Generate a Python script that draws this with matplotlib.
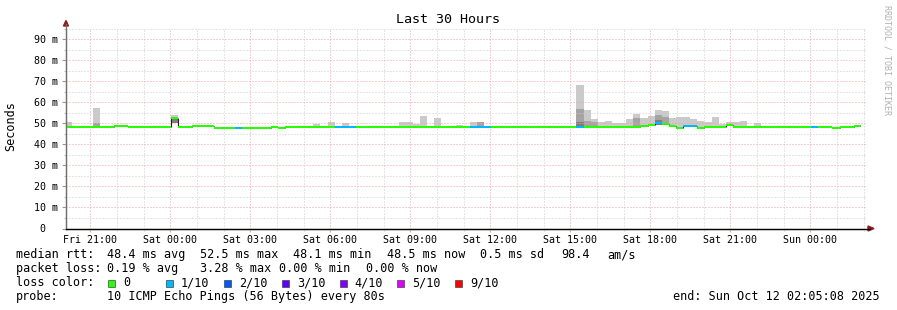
import matplotlib
matplotlib.use("Agg")
import matplotlib.pyplot as plt
import matplotlib.dates as mdates
from matplotlib.patches import Polygon, Rectangle
from datetime import datetime, timedelta
import numpy as np

# time window of the graph
t_start = datetime(2025, 10, 10, 20, 5, 8)
t_end = datetime(2025, 10, 12, 2, 5, 8)
first_bin = datetime(2025, 10, 10, 20, 1, 32)
bin_minutes = 16

# median rtt per 16 min bin (ms)
median = [48.4, 48.4, 48.4, 48.4, 48.4, 48.4, 48.4, 48.8, 48.8, 48.3,
          48.3, 48.3, 48.3, 48.3, 48.3, 52.5, 48.4, 48.4, 48.7, 48.7,
          48.7, 47.8, 47.8, 47.8, 47.8, 47.8, 47.8, 47.8, 47.8, 48.4,
          47.8, 48.4, 48.4, 48.4, 48.4, 48.4, 48.4, 48.4, 48.4, 48.4,
          48.4, 48.4, 48.4, 48.4, 48.4, 48.4, 48.4, 48.4, 48.4, 48.4,
          48.4, 48.4, 48.4, 48.4, 48.4, 48.4, 48.4, 48.4, 48.4, 48.4,
          48.4, 48.4, 48.4, 48.4, 48.4, 48.4, 48.4, 48.4, 48.4, 48.4,
          48.4, 48.4, 48.4, 48.4, 48.4, 48.4, 48.4, 48.4, 48.4, 48.4,
          48.4, 48.9, 49.0, 50.1, 49.6, 48.8, 47.9, 48.9, 48.9, 47.9,
          48.4, 48.4, 48.4, 49.0, 48.4, 48.4, 48.4, 48.4, 48.4, 48.4,
          48.4, 48.4, 48.4, 48.4, 48.4, 48.4, 48.4, 48.4, 47.6, 48.4,
          48.4, 48.9]

# packet loss per bin (%)
loss_pct = [0, 0, 0, 0, 0, 0, 0, 0, 0, 0,
            0, 0, 0, 0, 0, 0, 0, 0, 0, 0,
            0, 0, 0, 0, 1.25, 0, 0, 0, 0, 0,
            0, 0, 0, 0, 0, 0, 0, 0, 1.25, 2.5,
            1.25, 0, 0, 0, 0, 0, 0, 0, 0, 0,
            0, 0, 0, 0, 0, 0, 0, 1.25, 2.5, 1.25,
            0, 0, 0, 0, 0, 0, 0, 0, 0, 0,
            0, 0, 3.28, 0, 0, 0, 0, 0, 0, 0,
            0, 0, 0, 2.5, 0, 0, 0, 1.25, 1.25, 0,
            0, 0, 0, 0, 0, 0, 0, 0, 0, 0,
            0, 0, 0, 0, 0, 1.25, 0, 0, 0, 0,
            0, 0]

# smoke per bin: slowest ping, 9th and 8th of 10, fastest ping (ms)
ping_max = [50.5, 48.8, 48.8, 48.8, 57.3, 48.8, 48.8, 49.2, 49.2, 48.7,
            48.7, 48.7, 48.7, 48.7, 48.7, 53.9, 48.8, 48.8, 49.1, 49.1,
            49.1, 48.2, 48.2, 48.2, 48.2, 48.2, 48.2, 48.2, 48.2, 48.8,
            48.2, 48.8, 48.8, 48.8, 48.8, 49.5, 48.8, 50.5, 48.8, 50.3,
            48.8, 48.8, 48.8, 48.8, 48.8, 48.8, 48.8, 50.5, 50.5, 49.6,
            53.4, 48.8, 52.3, 48.8, 48.8, 49.3, 48.8, 50.5, 50.5, 48.8,
            48.8, 48.8, 48.8, 48.8, 48.8, 48.8, 48.8, 48.8, 48.8, 48.8,
            48.8, 48.8, 68.4, 56.2, 51.8, 50.5, 51.0, 50.0, 50.0, 51.8,
            54.2, 52.4, 53.3, 56.2, 55.9, 52.4, 53.2, 53.2, 51.8, 51.3,
            50.4, 52.9, 49.7, 50.8, 50.4, 51.3, 48.8, 50.0, 48.8, 48.8,
            48.8, 48.8, 48.8, 48.8, 48.8, 48.8, 48.8, 48.8, 48.0, 48.8,
            48.8, 49.3]
ping_p9 = [48.7, 48.7, 48.7, 48.7, 50.0, 48.7, 48.7, 49.1, 49.1, 48.6,
           48.6, 48.6, 48.6, 48.6, 48.6, 52.9, 48.7, 48.7, 49.0, 49.0,
           49.0, 48.1, 48.1, 48.1, 48.1, 48.1, 48.1, 48.1, 48.1, 48.7,
           48.1, 48.7, 48.7, 48.7, 48.7, 48.7, 48.7, 48.7, 48.7, 48.7,
           48.7, 48.7, 48.7, 48.7, 48.7, 48.7, 48.7, 48.7, 48.7, 48.7,
           48.7, 48.7, 48.7, 48.7, 48.7, 48.7, 48.7, 48.7, 50.5, 48.7,
           48.7, 48.7, 48.7, 48.7, 48.7, 48.7, 48.7, 48.7, 48.7, 48.7,
           48.7, 48.7, 56.7, 51.3, 50.4, 48.7, 48.7, 48.7, 48.7, 48.7,
           52.3, 49.3, 49.4, 53.7, 53.0, 49.2, 48.3, 49.3, 49.3, 48.3,
           48.7, 48.7, 48.7, 49.3, 48.7, 48.7, 48.7, 48.7, 48.7, 48.7,
           48.7, 48.7, 48.7, 48.7, 48.7, 48.7, 48.7, 48.7, 47.9, 48.7,
           48.7, 49.2]
ping_p8 = [48.6, 48.6, 48.6, 48.6, 48.9, 48.6, 48.6, 49.0, 49.0, 48.5,
           48.5, 48.5, 48.5, 48.5, 48.5, 52.0, 48.6, 48.6, 48.9, 48.9,
           48.9, 48.0, 48.0, 48.0, 48.0, 48.0, 48.0, 48.0, 48.0, 48.6,
           48.0, 48.6, 48.6, 48.6, 48.6, 48.6, 48.6, 48.6, 48.6, 48.6,
           48.6, 48.6, 48.6, 48.6, 48.6, 48.6, 48.6, 48.6, 48.6, 48.6,
           48.6, 48.6, 48.6, 48.6, 48.6, 48.6, 48.6, 48.6, 48.6, 48.6,
           48.6, 48.6, 48.6, 48.6, 48.6, 48.6, 48.6, 48.6, 48.6, 48.6,
           48.6, 48.6, 50.5, 48.6, 48.6, 48.6, 48.6, 48.6, 48.6, 48.6,
           48.6, 49.2, 49.3, 51.5, 49.8, 49.0, 48.1, 49.1, 49.1, 48.1,
           48.6, 48.6, 48.6, 49.2, 48.6, 48.6, 48.6, 48.6, 48.6, 48.6,
           48.6, 48.6, 48.6, 48.6, 48.6, 48.6, 48.6, 48.6, 47.8, 48.6,
           48.6, 49.1]
ping_min = [48.0, 48.0, 48.0, 48.0, 48.0, 48.0, 48.0, 48.4, 48.4, 47.9,
            47.9, 47.9, 47.9, 47.9, 47.9, 50.0, 48.0, 48.0, 48.3, 48.3,
            48.3, 47.4, 47.4, 47.4, 47.4, 47.4, 47.4, 47.4, 47.4, 48.0,
            47.4, 48.0, 48.0, 48.0, 48.0, 48.0, 48.0, 48.0, 48.0, 48.0,
            48.0, 48.0, 48.0, 48.0, 48.0, 48.0, 48.0, 48.0, 48.0, 48.0,
            48.0, 48.0, 48.0, 48.0, 48.0, 48.0, 48.0, 48.0, 48.0, 48.0,
            48.0, 48.0, 48.0, 48.0, 48.0, 48.0, 48.0, 48.0, 48.0, 48.0,
            48.0, 48.0, 48.0, 48.0, 48.0, 48.0, 48.0, 48.0, 48.0, 48.0,
            48.0, 48.5, 48.6, 49.0, 49.2, 48.4, 47.5, 48.5, 48.5, 47.5,
            48.0, 48.0, 48.0, 48.6, 48.0, 48.0, 48.0, 48.0, 48.0, 48.0,
            48.0, 48.0, 48.0, 48.0, 48.0, 48.0, 48.0, 48.0, 47.2, 48.0,
            48.0, 48.5]

loss_colors = ["#26ff00", "#00b8ff", "#0059ff", "#5e00ff", "#7e00ff", "#dd00ff", "#ff0000"]
loss_labels = ["0", "1/10", "2/10", "3/10", "4/10", "5/10", "9/10"]
loss_limits = [0, 10, 20, 30, 40, 50, 100]

W, H = 897, 310
MONO = "DejaVu Sans Mono"
plt.rcParams["font.family"] = MONO

fig = plt.figure(figsize=(W / 100, H / 100), dpi=100)
fig.patch.set_facecolor("white")
ax = fig.add_axes([66 / W, (H - 228.5) / H, 800 / W, 200 / H])
ax.set_facecolor("white")


def fx(x):
    return x / W


def fy(y):
    return 1 - y / H


n = len(median)
bins = [first_bin + timedelta(minutes=bin_minutes * i) for i in range(n)]
xs = mdates.date2num(bins)
bw = bin_minutes / 1440.0

med = np.array(median)
pmax = np.array(ping_max)
pmin = np.array(ping_min)

# smoke
ax.bar(xs, pmax - pmin, bottom=pmin, width=bw, align="edge", color="#cacaca", lw=0, zorder=1)
ax.bar(xs, np.array(ping_p9) - pmin, bottom=pmin, width=bw, align="edge", color="#a4a4a4", lw=0, zorder=1.1)
ax.bar(xs, np.array(ping_p8) - pmin, bottom=pmin, width=bw, align="edge", color="#7e7e7e", lw=0, zorder=1.2)

# grid
ax.set_xlim(mdates.date2num(t_start), mdates.date2num(t_end))
ax.set_ylim(0, 95)
ax.xaxis.set_major_locator(mdates.HourLocator(byhour=range(0, 24, 3)))
ax.xaxis.set_minor_locator(mdates.HourLocator())
ax.xaxis.set_major_formatter(mdates.DateFormatter("%a %H:%M"))
ax.set_yticks(range(0, 100, 10))
ax.set_yticks(range(5, 100, 10), minor=True)
ax.set_yticklabels([" 0  "] + ["%d m" % v for v in range(10, 100, 10)])
ax.grid(which="minor", color="#cccccc", lw=0.72, linestyle=(0, (1, 2)))
ax.grid(which="major", color="#f2a0a0", lw=0.72, linestyle=(0, (1, 2)))
ax.set_axisbelow(False)
for gl in ax.get_xgridlines() + ax.get_ygridlines():
    gl.set_zorder(2)

# median: dark connectors where the level changes, then the loss coloured band
edges = np.append(xs, xs[-1] + bw)
jumps = [i for i in range(1, n) if median[i] != median[i - 1]]
ax.vlines([edges[i] for i in jumps], [min(median[i], median[i - 1]) for i in jumps],
          [max(median[i], median[i - 1]) for i in jumps], color="#202020", lw=0.8, zorder=3)
band_cols = []
for lp in loss_pct:
    if lp == 0:
        band_cols.append(loss_colors[0])
    else:
        k = next(i for i, lim in enumerate(loss_limits) if lp <= lim)
        band_cols.append(loss_colors[k])
ax.bar(xs, 1.0, bottom=med - 0.5, width=bw, align="edge", color=band_cols, lw=0, zorder=4)

for s in ["top", "right"]:
    ax.spines[s].set_visible(False)
ax.spines["left"].set_color("#707070")
ax.spines["left"].set_linewidth(0.9)
ax.spines["bottom"].set_color("black")
ax.spines["bottom"].set_linewidth(0.9)
ax.tick_params(axis="y", which="major", length=3, width=0.8, color="#999999", pad=3, labelsize=7.2)
ax.tick_params(axis="y", which="minor", length=1.5, width=0.8, color="#bbbbbb")
ax.tick_params(axis="x", which="major", length=2, width=0.8, color="#f2a0a0", pad=3, labelsize=7.2)
ax.tick_params(axis="x", which="minor", length=1.5, width=0.8, color="#cccccc")

# axis extensions and arrows
arrow_col = "#8b1c1c"
fig.add_artist(plt.Line2D([fx(66), fx(66)], [fy(228.5), fy(24)], color="#707070", lw=0.9))
fig.add_artist(plt.Line2D([fx(66), fx(870)], [fy(228.5), fy(228.5)], color="black", lw=0.9))
fig.add_artist(Polygon([[fx(63.5), fy(26)], [fx(68.5), fy(26)], [fx(66), fy(20.5)]],
                       closed=True, color=arrow_col, transform=fig.transFigure))
fig.add_artist(Polygon([[fx(868), fy(226)], [fx(868), fy(231)], [fx(874), fy(228.5)]],
                       closed=True, color=arrow_col, transform=fig.transFigure))

# titles
fig.text(fx(448), fy(19.5), "Last 30 Hours", ha="center", va="center", fontsize=9.6)
fig.text(fx(11), fy(126), "Seconds", rotation=90, ha="center", va="center", fontsize=8.5)
fig.text(fx(886.5), fy(5), "RRDTOOL / TOBI OETIKER", rotation=-90, ha="center", va="top",
         fontsize=6, color="#b0b0b0")

# legend block
fs = 8.5
row1 = [(16, "median rtt:"), (107.3, "48.4 ms avg"), (200, "52.5 ms max"), (293.3, "48.1 ms min"),
        (386.7, "48.5 ms now"), (480, "0.5 ms sd"), (561.7, "98.4"), (607.3, "am/s")]
row2 = [(16, "packet loss:"), (107.3, "0.19 % avg"), (200, "3.28 % max"), (279.3, "0.00 % min"),
        (366, "0.00 % now")]
for x, s in row1:
    fig.text(fx(x), fy(254.7), s, ha="left", va="center", fontsize=fs)
for x, s in row2:
    fig.text(fx(x), fy(268.5), s, ha="left", va="center", fontsize=fs)

fig.text(fx(16), fy(282.7), "loss color:", ha="left", va="center", fontsize=fs)
for i, (c, lab) in enumerate(zip(loss_colors, loss_labels)):
    x0 = 108.3 + i * 57.8
    fig.add_artist(Rectangle((fx(x0), fy(286.5)), 7 / W, 7 / H, facecolor=c,
                             edgecolor="#444444", lw=0.5, transform=fig.transFigure))
    fig.text(fx(x0 + 15), fy(282.7), lab, ha="left", va="center", fontsize=fs)

fig.text(fx(16), fy(296.7), "probe:", ha="left", va="center", fontsize=fs)
fig.text(fx(107.3), fy(296.7), "10 ICMP Echo Pings (56 Bytes) every 80s", ha="left", va="center", fontsize=fs)
fig.text(fx(880), fy(296.7), "end: Sun Oct 12 02:05:08 2025", ha="right", va="center", fontsize=fs)

fig.savefig("out.png", dpi=100, facecolor="white")
